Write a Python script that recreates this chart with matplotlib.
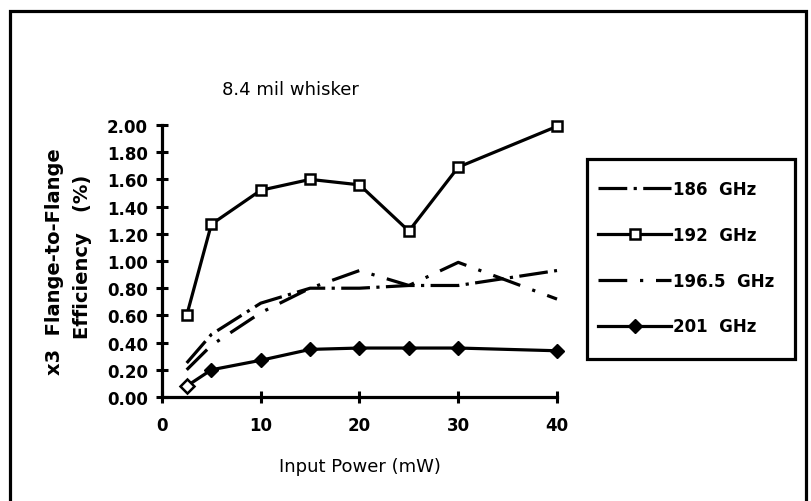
import matplotlib
matplotlib.use("Agg")
import matplotlib.pyplot as plt
from matplotlib.patches import Rectangle

plt.rcParams['font.family'] = ['DejaVu Sans']
plt.rcParams['font.weight'] = 'bold'

# data
power = [2.5, 5, 10, 15, 20, 25, 30, 40]
eff_186 = [0.25, 0.46, 0.69, 0.80, 0.80, 0.82, 0.82, 0.93]
eff_192 = [0.60, 1.27, 1.52, 1.60, 1.56, 1.22, 1.69, 1.99]
eff_1965 = [0.20, 0.38, 0.62, 0.80, 0.93, 0.82, 0.99, 0.72]
eff_201 = [0.08, 0.20, 0.27, 0.35, 0.36, 0.36, 0.36, 0.34]

xticks = [0, 10, 20, 30, 40]
yticks = [0.0, 0.2, 0.4, 0.6, 0.8, 1.0, 1.2, 1.4, 1.6, 1.8, 2.0]

fig = plt.figure(figsize=(8.12, 5.02), dpi=100)
ax = fig.add_axes([162/812, 1-398/502, 395/812, 272/502])

lw = 2.3
l1, = ax.plot(power, eff_186, color='k', lw=lw, dashes=(9, 2, 1, 2), label='186  GHz', clip_on=False)
l2, = ax.plot(power, eff_192, color='k', lw=lw, marker='s', ms=6.5, mfc='white', mec='k', mew=1.8,
              label='192  GHz', clip_on=False)
l3, = ax.plot(power, eff_1965, color='k', lw=lw, dashes=(9, 4, 1, 4), label='196.5  GHz', clip_on=False)
l4, = ax.plot(power, eff_201, color='k', lw=lw, marker='D', ms=7, mfc='k', mec='k',
              label='201  GHz', clip_on=False)
# first diamond is drawn open in the original
ax.plot(power[:1], eff_201[:1], ls='none', marker='D', ms=7, mfc='white', mec='k', mew=1.8, clip_on=False)

ax.set_xlim(0, 40)
ax.set_ylim(0, 2.0)
ax.set_xticks(xticks)
ax.set_yticks(yticks)
ax.set_xticklabels([str(v) for v in xticks], fontsize=12, fontweight='bold')
ax.set_yticklabels(['%.2f' % v for v in yticks], fontsize=12, fontweight='bold')
ax.tick_params(direction='inout', length=8, width=2.2, pad=6)
ax.tick_params(axis='x', pad=10)
for s in ['top', 'right']:
    ax.spines[s].set_visible(False)
for s in ['left', 'bottom']:
    ax.spines[s].set_linewidth(2.3)

ax.set_xlabel('Input Power (mW)', fontsize=13, fontweight='normal', labelpad=16)
fig.text(55/812, 1-262/502, 'x3  Flange-to-Flange', rotation=90, fontsize=14,
         fontweight='bold', ha='center', va='center')
fig.text(83/812, 1-257/502, 'Efficiency   (%)', rotation=90, fontsize=14,
         fontweight='bold', ha='center', va='center')
fig.text(290/812, 1-90/502, '8.4 mil whisker', fontsize=13, ha='center', va='center',
         fontweight='normal')

# legend entries without frame, box drawn separately
leg = fig.legend(handles=[l1, l2, l3, l4], loc='upper left',
                 bbox_to_anchor=(598/812, 1-181/502), borderaxespad=0, borderpad=0,
                 fontsize=12, handlelength=4.4, handletextpad=0.1, labelspacing=1.67,
                 frameon=False)
for t in leg.get_texts():
    t.set_fontweight('bold')
fig.patches.append(Rectangle((587/812, 1-360/502), 208/812, 200/502, transform=fig.transFigure,
                             fill=False, lw=2.3, ec='k', zorder=5))

# outer frame around the whole figure
fig.patches.append(Rectangle((10/812, -0.05), 796/812, 1.05 - 12/502, transform=fig.transFigure,
                             fill=False, lw=2.3, ec='k'))

fig.savefig('out.png', dpi=100)
